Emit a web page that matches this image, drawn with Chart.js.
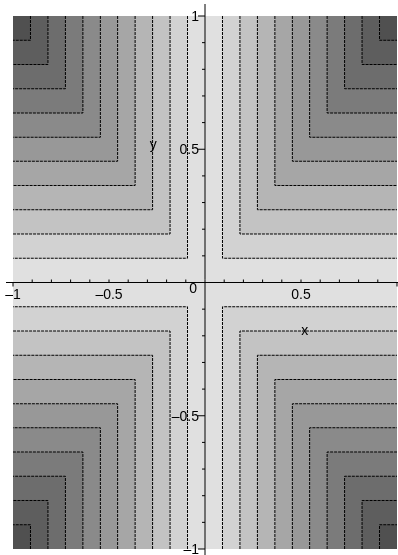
<!DOCTYPE html>
<html>
<head>
<meta charset="utf-8">
<script src="https://cdn.jsdelivr.net/npm/chart.js@4/dist/chart.umd.min.js"></script>
<style>
html,body{margin:0;padding:0;background:#fff;}
canvas{display:block;}
</style>
</head>
<body>
<canvas id="c" width="398" height="555"></canvas>
<script>
// Contour levels of the plotted surface
const levels = [0, 0.091, 0.182, 0.273, 0.364, 0.455, 0.545, 0.636, 0.727, 0.818, 0.909];
// Fill grey for the band at or above each level
const greys = ['#e0e0e0','#d2d2d2','#c3c3c3','#b5b5b5','#a6a6a6','#989898','#8a8a8a','#7b7b7b','#6d6d6d','#5e5e5e','#505050'];
// Quadrant signs
const quadrants = [[1,1],[-1,1],[-1,-1],[1,-1]];
// Axis ticks and labels
const xMinorTicks = [-0.9,-0.8,-0.7,-0.6,-0.5,-0.4,-0.3,-0.2,-0.1,0.1,0.2,0.3,0.4,0.5,0.6,0.7,0.8,0.9];
const yMinorTicks = [-0.9,-0.8,-0.7,-0.6,-0.4,-0.3,-0.2,-0.1,0.1,0.2,0.3,0.4,0.6,0.7,0.8,0.9];
const xEndTicks = [-1, 1];
const yMajorTicks = [-1, -0.5, 0.5, 1];
const xTickValues = [-1, -0.5, 0.5, 1];
const xTickLabels = ['\u20131', '\u20130.5', '0.5', '1'];
const yTickValues = [1, 0.5, -0.5, -1];
const yTickLabels = ['1', '0.5', '\u20130.5', '\u20131'];
const xTitle = {text: 'x', x: 0.52, y: -0.184};
const yTitle = {text: 'y', x: -0.27, y: 0.515};
const domain = [-1, 1];

const datasets = [];
// contour lines (on top)
quadrants.forEach(([sx, sy]) => {
  levels.slice(1).forEach(L => {
    datasets.push({
      data: [{x: sx*L, y: sy*domain[1]}, {x: sx*L, y: sy*L}, {x: sx*domain[1], y: sy*L}],
      showLine: true, fill: false, borderColor: '#000', borderWidth: 1,
      borderDash: [3, 1], pointRadius: 0, order: 0
    });
  });
});
// filled bands
quadrants.forEach(([sx, sy]) => {
  levels.forEach((L, k) => {
    datasets.push({
      data: [{x: sx*L, y: sy*domain[1]}, {x: sx*domain[1], y: sy*domain[1]}],
      showLine: true, fill: {value: sy*L}, backgroundColor: greys[k],
      borderWidth: 0, borderColor: 'rgba(0,0,0,0)', pointRadius: 0, order: 20 - k
    });
  });
});

const FONT = '14px "Liberation Sans", Arial, sans-serif';
const axesPlugin = {
  id: 'mapleAxes',
  afterDatasetsDraw(chart) {
    const ctx = chart.ctx, xs = chart.scales.x, ys = chart.scales.y, ca = chart.chartArea;
    const x0 = xs.getPixelForValue(0), y0 = ys.getPixelForValue(0);
    ctx.save();
    ctx.strokeStyle = '#000'; ctx.lineWidth = 1;
    ctx.beginPath();
    ctx.moveTo(ca.left - 7, y0); ctx.lineTo(ca.right + 1, y0);
    ctx.moveTo(x0, ca.top - 12); ctx.lineTo(x0, ca.bottom + 6);
    xMinorTicks.forEach(v => { const p = xs.getPixelForValue(v); ctx.moveTo(p, y0); ctx.lineTo(p, y0 - 3); });
    xEndTicks.forEach(v => { const p = xs.getPixelForValue(v); ctx.moveTo(p, y0); ctx.lineTo(p, y0 + 4); });
    yMinorTicks.forEach(v => { const p = ys.getPixelForValue(v); ctx.moveTo(x0, p); ctx.lineTo(x0 - 3, p); });
    yMajorTicks.forEach(v => { const p = ys.getPixelForValue(v); ctx.moveTo(x0, p); ctx.lineTo(x0 - 7, p); });
    ctx.stroke();
    ctx.fillStyle = '#000'; ctx.font = FONT; ctx.textBaseline = 'middle';
    ctx.textAlign = 'center';
    xTickValues.forEach((v, i) => {
      const shift = v === 1 ? 5 : 0;
      ctx.fillText(xTickLabels[i], xs.getPixelForValue(v) + shift, y0 + 13);
    });
    ctx.textAlign = 'right';
    ctx.fillText('0', x0 - 8, y0 + 7);
    yTickValues.forEach((v, i) => ctx.fillText(yTickLabels[i], x0 - 6, ys.getPixelForValue(v) + 1));
    ctx.textAlign = 'center';
    ctx.fillText(xTitle.text, xs.getPixelForValue(xTitle.x), ys.getPixelForValue(xTitle.y));
    ctx.fillText(yTitle.text, xs.getPixelForValue(yTitle.x), ys.getPixelForValue(yTitle.y));
    ctx.restore();
  }
};

new Chart(document.getElementById('c'), {
  type: 'scatter',
  data: {datasets},
  options: {
    responsive: false, animation: false, devicePixelRatio: 1,
    layout: {padding: {left: 13, top: 16, right: 1, bottom: 6}},
    scales: {
      x: {type: 'linear', min: domain[0], max: domain[1], display: false},
      y: {type: 'linear', min: domain[0], max: domain[1], display: false}
    },
    plugins: {legend: {display: false}, tooltip: {enabled: false}}
  },
  plugins: [axesPlugin]
});
</script>
</body>
</html>
